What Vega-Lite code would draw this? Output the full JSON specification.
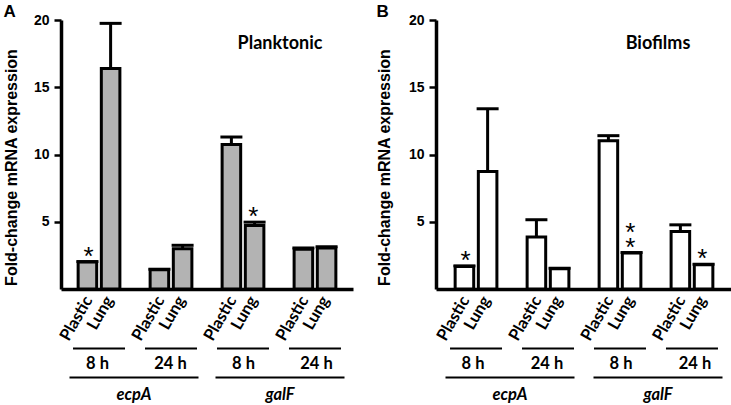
{
  "$schema": "https://vega.github.io/schema/vega-lite/v6.json",
  "padding": {"left": 3, "top": 3, "right": 0, "bottom": 0},
  "config": {"view": {"stroke": null}, "font": "Liberation Sans"},
  "spacing": 23,
  "datasets": {
    "plank": [
      {"group": "ecpA 8 h", "surface": "Plastic", "mean": 2.0, "upper": 2.04, "sig": "*", "sig2": ""},
      {"group": "ecpA 8 h", "surface": "Lung", "mean": 16.4, "upper": 19.75, "sig": "", "sig2": ""},
      {"group": "ecpA 24 h", "surface": "Plastic", "mean": 1.43, "upper": 1.47, "sig": "", "sig2": ""},
      {"group": "ecpA 24 h", "surface": "Lung", "mean": 3.0, "upper": 3.25, "sig": "", "sig2": ""},
      {"group": "galF 8 h", "surface": "Plastic", "mean": 10.75, "upper": 11.3, "sig": "", "sig2": ""},
      {"group": "galF 8 h", "surface": "Lung", "mean": 4.72, "upper": 4.97, "sig": "*", "sig2": ""},
      {"group": "galF 24 h", "surface": "Plastic", "mean": 2.95, "upper": 3.05, "sig": "", "sig2": ""},
      {"group": "galF 24 h", "surface": "Lung", "mean": 3.05, "upper": 3.15, "sig": "", "sig2": ""}
    ],
    "bio": [
      {"group": "ecpA 8 h", "surface": "Plastic", "mean": 1.68, "upper": 1.72, "sig": "*", "sig2": ""},
      {"group": "ecpA 8 h", "surface": "Lung", "mean": 8.73, "upper": 13.4, "sig": "", "sig2": ""},
      {"group": "ecpA 24 h", "surface": "Plastic", "mean": 3.86, "upper": 5.15, "sig": "", "sig2": ""},
      {"group": "ecpA 24 h", "surface": "Lung", "mean": 1.5, "upper": 1.54, "sig": "", "sig2": ""},
      {"group": "galF 8 h", "surface": "Plastic", "mean": 11.03, "upper": 11.4, "sig": "", "sig2": ""},
      {"group": "galF 8 h", "surface": "Lung", "mean": 2.67, "upper": 2.71, "sig": "*", "sig2": "*"},
      {"group": "galF 24 h", "surface": "Plastic", "mean": 4.28, "upper": 4.77, "sig": "", "sig2": ""},
      {"group": "galF 24 h", "surface": "Lung", "mean": 1.8, "upper": 1.84, "sig": "*", "sig2": ""}
    ],
    "times": [
      {"group": "ecpA 8 h", "time": "8 h"},
      {"group": "ecpA 24 h", "time": "24 h"},
      {"group": "galF 8 h", "time": "8 h"},
      {"group": "galF 24 h", "time": "24 h"}
    ],
    "genes": [
      {"gene": "ecpA"},
      {"gene": "galF"}
    ]
  },
  "hconcat": [
    {
      "width": 292,
      "height": 269,
      "title": {"text": "A", "anchor": "start", "frame": "bounds", "font": "Liberation Sans", "fontSize": 17, "fontWeight": "bold", "color": "black", "offset": -8},
      "resolve": {"scale": {"x": "independent", "xOffset": "independent"}},
      "layer": [
        {
          "data": {"name": "plank"},
          "mark": {"type": "bar", "fill": "#b3b3b3", "stroke": "black", "strokeWidth": 3},
          "encoding": {
            "x": {"field": "group", "type": "nominal", "scale": {"domain": ["ecpA 8 h", "ecpA 24 h", "galF 8 h", "galF 24 h"], "paddingInner": 0.42, "paddingOuter": 0.238},
              "axis": {"domain": true, "domainColor": "black", "domainWidth": 3.5, "labels": false, "ticks": false, "title": null, "grid": false}},
            "xOffset": {"field": "surface", "type": "nominal", "scale": {"domain": ["Plastic", "Lung"], "paddingInner": 0.2}},
            "y": {"field": "mean", "type": "quantitative", "scale": {"domain": [0, 20], "nice": false, "zero": false},
              "axis": {"values": [5, 10, 15, 20], "title": "Fold-change mRNA expression", "titleFont": "Liberation Sans", "titleFontSize": 16, "titleFontWeight": "bold", "titleColor": "black", "titlePadding": 14, "titleY": 147,
                "labelFont": "Liberation Sans", "labelFontSize": 14, "labelFontWeight": "bold", "labelColor": "black", "labelPadding": 5,
                "tickSize": 7, "tickWidth": 2.5, "tickColor": "black", "domainColor": "black", "domainWidth": 3.5, "grid": false}}
          }
        },
        {
          "data": {"name": "plank"},
          "mark": {"type": "rule", "strokeWidth": 3, "color": "black"},
          "encoding": {
            "x": {"field": "group", "type": "nominal", "scale": {"domain": ["ecpA 8 h", "ecpA 24 h", "galF 8 h", "galF 24 h"], "paddingInner": 0.42, "paddingOuter": 0.238}, "axis": null},
            "xOffset": {"field": "surface", "type": "nominal", "scale": {"domain": ["Plastic", "Lung"], "paddingInner": 0.2}},
            "y": {"field": "mean", "type": "quantitative", "scale": {"domain": [0, 20], "nice": false, "zero": false}},
            "y2": {"field": "upper"}
          }
        },
        {
          "data": {"name": "plank"},
          "mark": {"type": "tick", "orient": "horizontal", "size": 22, "thickness": 3, "color": "black", "opacity": 1},
          "encoding": {
            "x": {"field": "group", "type": "nominal", "scale": {"domain": ["ecpA 8 h", "ecpA 24 h", "galF 8 h", "galF 24 h"], "paddingInner": 0.42, "paddingOuter": 0.238}, "axis": null},
            "xOffset": {"field": "surface", "type": "nominal", "scale": {"domain": ["Plastic", "Lung"], "paddingInner": 0.2}},
            "y": {"field": "upper", "type": "quantitative", "scale": {"domain": [0, 20], "nice": false, "zero": false}}
          }
        },
        {
          "data": {"name": "plank"},
          "transform": [{"filter": "datum.sig != ''"}],
          "mark": {"type": "text", "font": "Liberation Sans", "fontSize": 26, "baseline": "alphabetic", "dy": 3, "color": "black"},
          "encoding": {
            "x": {"field": "group", "type": "nominal", "scale": {"domain": ["ecpA 8 h", "ecpA 24 h", "galF 8 h", "galF 24 h"], "paddingInner": 0.42, "paddingOuter": 0.238}, "axis": null},
            "xOffset": {"field": "surface", "type": "nominal", "scale": {"domain": ["Plastic", "Lung"], "paddingInner": 0.2}},
            "y": {"field": "upper", "type": "quantitative", "scale": {"domain": [0, 20], "nice": false, "zero": false}},
            "text": {"field": "sig"}
          }
        },
        {
          "data": {"name": "plank"},
          "mark": {"type": "text", "angle": 300, "align": "right", "baseline": "middle", "font": "Lato", "fontSize": 16.5, "fontWeight": "bold", "color": "black"},
          "encoding": {
            "x": {"field": "group", "type": "nominal", "scale": {"domain": ["ecpA 8 h", "ecpA 24 h", "galF 8 h", "galF 24 h"], "paddingInner": 0.42, "paddingOuter": 0.238}, "axis": null},
            "xOffset": {"field": "surface", "type": "nominal", "scale": {"domain": ["Plastic", "Lung"], "paddingInner": 0.2}},
            "y": {"datum": -0.64, "type": "quantitative", "scale": {"domain": [0, 20], "nice": false, "zero": false}},
            "text": {"field": "surface"}
          }
        },
        {
          "data": {"name": "times"},
          "mark": {"type": "tick", "orient": "horizontal", "size": 52, "thickness": 2, "color": "black", "opacity": 1},
          "encoding": {
            "x": {"field": "group", "type": "nominal", "scale": {"domain": ["ecpA 8 h", "ecpA 24 h", "galF 8 h", "galF 24 h"], "paddingInner": 0.42, "paddingOuter": 0.238}, "axis": null},
            "y": {"datum": -4.42, "type": "quantitative", "scale": {"domain": [0, 20], "nice": false, "zero": false}}
          }
        },
        {
          "data": {"name": "times"},
          "mark": {"type": "text", "baseline": "middle", "font": "Lato", "fontSize": 16.5, "fontWeight": "bold", "color": "black"},
          "encoding": {
            "x": {"field": "group", "type": "nominal", "scale": {"domain": ["ecpA 8 h", "ecpA 24 h", "galF 8 h", "galF 24 h"], "paddingInner": 0.42, "paddingOuter": 0.238}, "axis": null},
            "y": {"datum": -5.55, "type": "quantitative", "scale": {"domain": [0, 20], "nice": false, "zero": false}},
            "text": {"field": "time"}
          }
        },
        {
          "data": {"name": "genes"},
          "mark": {"type": "tick", "orient": "horizontal", "size": 129, "thickness": 2, "color": "black", "opacity": 1},
          "encoding": {
            "x": {"field": "gene", "type": "nominal", "scale": {"domain": ["ecpA", "galF"], "paddingInner": 0, "paddingOuter": 0}, "axis": null},
            "y": {"datum": -6.58, "type": "quantitative", "scale": {"domain": [0, 20], "nice": false, "zero": false}}
          }
        },
        {
          "data": {"name": "genes"},
          "mark": {"type": "text", "baseline": "middle", "font": "Lato", "fontSize": 16.5, "fontWeight": "bold", "fontStyle": "italic", "color": "black"},
          "encoding": {
            "x": {"field": "gene", "type": "nominal", "scale": {"domain": ["ecpA", "galF"], "paddingInner": 0, "paddingOuter": 0}, "axis": null},
            "y": {"datum": -7.88, "type": "quantitative", "scale": {"domain": [0, 20], "nice": false, "zero": false}},
            "text": {"field": "gene"}
          }
        },
        {
          "data": {"name": "genes"},
          "transform": [{"filter": "datum.gene == 'galF'"}],
          "mark": {"type": "text", "baseline": "middle", "font": "Lato", "fontSize": 18, "fontWeight": "bold", "color": "black"},
          "encoding": {
            "x": {"field": "gene", "type": "nominal", "scale": {"domain": ["ecpA", "galF"], "paddingInner": 0, "paddingOuter": 0}, "axis": null},
            "y": {"datum": 18.2, "type": "quantitative", "scale": {"domain": [0, 20], "nice": false, "zero": false}},
            "text": {"value": "Planktonic"}
          }
        }
      ]
    },
    {
      "width": 296,
      "height": 269,
      "title": {"text": "B", "anchor": "start", "frame": "bounds", "font": "Liberation Sans", "fontSize": 17, "fontWeight": "bold", "color": "black", "offset": -8},
      "resolve": {"scale": {"x": "independent", "xOffset": "independent"}},
      "layer": [
        {
          "data": {"name": "bio"},
          "mark": {"type": "bar", "fill": "white", "stroke": "black", "strokeWidth": 3},
          "encoding": {
            "x": {"field": "group", "type": "nominal", "scale": {"domain": ["ecpA 8 h", "ecpA 24 h", "galF 8 h", "galF 24 h"], "paddingInner": 0.42, "paddingOuter": 0.266},
              "axis": {"domain": true, "domainColor": "black", "domainWidth": 3.5, "labels": false, "ticks": false, "title": null, "grid": false}},
            "xOffset": {"field": "surface", "type": "nominal", "scale": {"domain": ["Plastic", "Lung"], "paddingInner": 0.2}},
            "y": {"field": "mean", "type": "quantitative", "scale": {"domain": [0, 20], "nice": false, "zero": false},
              "axis": {"values": [5, 10, 15, 20], "title": "Fold-change mRNA expression", "titleFont": "Liberation Sans", "titleFontSize": 16, "titleFontWeight": "bold", "titleColor": "black", "titlePadding": 16, "titleY": 147,
                "labelFont": "Liberation Sans", "labelFontSize": 14, "labelFontWeight": "bold", "labelColor": "black", "labelPadding": 5,
                "tickSize": 7, "tickWidth": 2.5, "tickColor": "black", "domainColor": "black", "domainWidth": 3.5, "grid": false}}
          }
        },
        {
          "data": {"name": "bio"},
          "mark": {"type": "rule", "strokeWidth": 3, "color": "black"},
          "encoding": {
            "x": {"field": "group", "type": "nominal", "scale": {"domain": ["ecpA 8 h", "ecpA 24 h", "galF 8 h", "galF 24 h"], "paddingInner": 0.42, "paddingOuter": 0.266}, "axis": null},
            "xOffset": {"field": "surface", "type": "nominal", "scale": {"domain": ["Plastic", "Lung"], "paddingInner": 0.2}},
            "y": {"field": "mean", "type": "quantitative", "scale": {"domain": [0, 20], "nice": false, "zero": false}},
            "y2": {"field": "upper"}
          }
        },
        {
          "data": {"name": "bio"},
          "mark": {"type": "tick", "orient": "horizontal", "size": 22, "thickness": 3, "color": "black", "opacity": 1},
          "encoding": {
            "x": {"field": "group", "type": "nominal", "scale": {"domain": ["ecpA 8 h", "ecpA 24 h", "galF 8 h", "galF 24 h"], "paddingInner": 0.42, "paddingOuter": 0.266}, "axis": null},
            "xOffset": {"field": "surface", "type": "nominal", "scale": {"domain": ["Plastic", "Lung"], "paddingInner": 0.2}},
            "y": {"field": "upper", "type": "quantitative", "scale": {"domain": [0, 20], "nice": false, "zero": false}}
          }
        },
        {
          "data": {"name": "bio"},
          "transform": [{"filter": "datum.sig != ''"}],
          "mark": {"type": "text", "font": "Liberation Sans", "fontSize": 26, "baseline": "alphabetic", "dy": 3, "color": "black"},
          "encoding": {
            "x": {"field": "group", "type": "nominal", "scale": {"domain": ["ecpA 8 h", "ecpA 24 h", "galF 8 h", "galF 24 h"], "paddingInner": 0.42, "paddingOuter": 0.266}, "axis": null},
            "xOffset": {"field": "surface", "type": "nominal", "scale": {"domain": ["Plastic", "Lung"], "paddingInner": 0.2}},
            "y": {"field": "upper", "type": "quantitative", "scale": {"domain": [0, 20], "nice": false, "zero": false}},
            "text": {"field": "sig"}
          }
        },
        {
          "data": {"name": "bio"},
          "transform": [{"filter": "datum.sig2 != ''"}],
          "mark": {"type": "text", "font": "Liberation Sans", "fontSize": 26, "baseline": "alphabetic", "dy": -12, "color": "black"},
          "encoding": {
            "x": {"field": "group", "type": "nominal", "scale": {"domain": ["ecpA 8 h", "ecpA 24 h", "galF 8 h", "galF 24 h"], "paddingInner": 0.42, "paddingOuter": 0.266}, "axis": null},
            "xOffset": {"field": "surface", "type": "nominal", "scale": {"domain": ["Plastic", "Lung"], "paddingInner": 0.2}},
            "y": {"field": "upper", "type": "quantitative", "scale": {"domain": [0, 20], "nice": false, "zero": false}},
            "text": {"field": "sig2"}
          }
        },
        {
          "data": {"name": "bio"},
          "mark": {"type": "text", "angle": 300, "align": "right", "baseline": "middle", "font": "Lato", "fontSize": 16.5, "fontWeight": "bold", "color": "black"},
          "encoding": {
            "x": {"field": "group", "type": "nominal", "scale": {"domain": ["ecpA 8 h", "ecpA 24 h", "galF 8 h", "galF 24 h"], "paddingInner": 0.42, "paddingOuter": 0.266}, "axis": null},
            "xOffset": {"field": "surface", "type": "nominal", "scale": {"domain": ["Plastic", "Lung"], "paddingInner": 0.2}},
            "y": {"datum": -0.64, "type": "quantitative", "scale": {"domain": [0, 20], "nice": false, "zero": false}},
            "text": {"field": "surface"}
          }
        },
        {
          "data": {"name": "times"},
          "mark": {"type": "tick", "orient": "horizontal", "size": 52, "thickness": 2, "color": "black", "opacity": 1},
          "encoding": {
            "x": {"field": "group", "type": "nominal", "scale": {"domain": ["ecpA 8 h", "ecpA 24 h", "galF 8 h", "galF 24 h"], "paddingInner": 0.42, "paddingOuter": 0.266}, "axis": null},
            "y": {"datum": -4.42, "type": "quantitative", "scale": {"domain": [0, 20], "nice": false, "zero": false}}
          }
        },
        {
          "data": {"name": "times"},
          "mark": {"type": "text", "baseline": "middle", "font": "Lato", "fontSize": 16.5, "fontWeight": "bold", "color": "black"},
          "encoding": {
            "x": {"field": "group", "type": "nominal", "scale": {"domain": ["ecpA 8 h", "ecpA 24 h", "galF 8 h", "galF 24 h"], "paddingInner": 0.42, "paddingOuter": 0.266}, "axis": null},
            "y": {"datum": -5.55, "type": "quantitative", "scale": {"domain": [0, 20], "nice": false, "zero": false}},
            "text": {"field": "time"}
          }
        },
        {
          "data": {"name": "genes"},
          "mark": {"type": "tick", "orient": "horizontal", "size": 129, "thickness": 2, "color": "black", "opacity": 1},
          "encoding": {
            "x": {"field": "gene", "type": "nominal", "scale": {"domain": ["ecpA", "galF"], "paddingInner": 0, "paddingOuter": 0}, "axis": null},
            "y": {"datum": -6.58, "type": "quantitative", "scale": {"domain": [0, 20], "nice": false, "zero": false}}
          }
        },
        {
          "data": {"name": "genes"},
          "mark": {"type": "text", "baseline": "middle", "font": "Lato", "fontSize": 16.5, "fontWeight": "bold", "fontStyle": "italic", "color": "black"},
          "encoding": {
            "x": {"field": "gene", "type": "nominal", "scale": {"domain": ["ecpA", "galF"], "paddingInner": 0, "paddingOuter": 0}, "axis": null},
            "y": {"datum": -7.88, "type": "quantitative", "scale": {"domain": [0, 20], "nice": false, "zero": false}},
            "text": {"field": "gene"}
          }
        },
        {
          "data": {"name": "genes"},
          "transform": [{"filter": "datum.gene == 'galF'"}],
          "mark": {"type": "text", "baseline": "middle", "font": "Lato", "fontSize": 18, "fontWeight": "bold", "color": "black"},
          "encoding": {
            "x": {"field": "gene", "type": "nominal", "scale": {"domain": ["ecpA", "galF"], "paddingInner": 0, "paddingOuter": 0}, "axis": null},
            "y": {"datum": 18.2, "type": "quantitative", "scale": {"domain": [0, 20], "nice": false, "zero": false}},
            "text": {"value": "Biofilms"}
          }
        }
      ]
    }
  ]
}
